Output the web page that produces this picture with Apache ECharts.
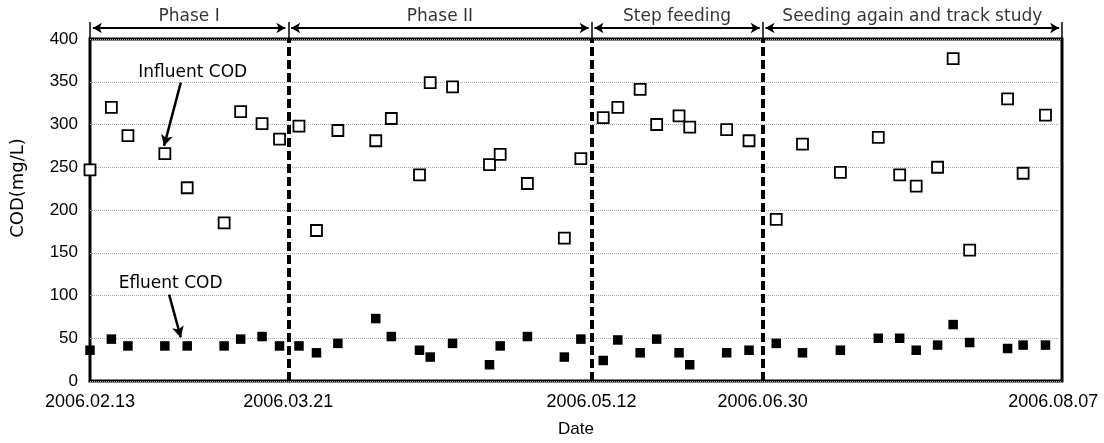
<!DOCTYPE html>
<html>
<head>
<meta charset="utf-8">
<script src="https://cdn.jsdelivr.net/npm/echarts@6/dist/echarts.min.js"></script>
<style>
  html, body { margin: 0; padding: 0; background: #fff; }
  #chart { width: 1104px; height: 443px; }
</style>
</head>
<body>
<div id="chart"></div>
<script>
// sample positions along the run, in % of the x axis
const xPos = [0, 2.2, 3.9, 7.7, 10.0, 13.8, 15.5, 17.7, 19.5, 21.5, 23.3, 25.5, 29.4, 31.0,
  33.9, 35.0, 37.3, 41.1, 42.2, 45.0, 48.8, 50.5, 52.8, 54.3, 56.6, 58.3, 60.6, 61.7, 65.5, 67.8,
  70.6, 73.3, 77.2, 81.1, 83.3, 85.0, 87.2, 88.8, 90.5, 94.4, 96.0, 98.3];
const influent = [247, 320, 287, 266, 226, 185, 315, 301, 283, 298, 176, 293, 281, 307,
  241, 349, 344, 253, 265, 231, 167, 260, 308, 320, 341, 300, 310, 297, 294, 281,
  189, 277, 244, 285, 241, 228, 250, 377, 153, 330, 243, 311];
const effluent = [36, 49, 41, 41, 41, 41, 49, 52, 41, 41, 33, 44, 73, 52,
  36, 28, 44, 19, 41, 52, 28, 49, 24, 48, 33, 49, 33, 19, 33, 36,
  44, 33, 36, 50, 50, 36, 42, 66, 45, 38, 42, 42];

const dateLabels = ['2006.02.13', '2006.03.21', '2006.05.12', '2006.06.30', '2006.08.07'];
const datePos = [0, 20.4, 51.6, 69.2, 99.1];

const phaseNames = ['Phase I', 'Phase II', 'Step feeding', 'Seeding again and track study'];
const phaseBounds = [0, 20.4, 51.6, 69.2, 100];

const numFont = 'Liberation Sans';
const txtFont = 'DejaVu Sans';

const chart = echarts.init(document.getElementById('chart'));

const arrowY = 0.367;
const phaseArrows = phaseNames.map((n, i) => [
  { coord: [phaseBounds[i] + 0.3, arrowY] },
  { coord: [phaseBounds[i + 1] - 0.3, arrowY] }
]);
const phaseBars = phaseBounds.map(b => [
  { coord: [b, 0] },
  { coord: [b, 0.567] }
]);
const phaseText = phaseNames.map((n, i) => ({
  name: n,
  value: [(phaseBounds[i] + phaseBounds[i + 1]) / 2, 0.75]
}));

chart.setOption({
  animation: false,
  grid: [
    { left: 90, right: 42, top: 39, bottom: 61, show: true, borderColor: '#000', borderWidth: 3 },
    { left: 90, right: 42, top: 9, height: 30 }
  ],
  xAxis: [{
    type: 'value', min: 0, max: 100,
    name: 'Date', nameLocation: 'middle', nameGap: 40,
    nameTextStyle: { fontFamily: numFont, fontSize: 17, color: '#000' },
    axisLine: { show: false },
    axisTick: { show: false },
    splitLine: { show: false },
    axisLabel: {
      customValues: datePos,
      formatter: v => dateLabels[datePos.indexOf(v)] || '',
      fontFamily: numFont, fontSize: 18, color: '#000', margin: 12
    }
  }, {
    type: 'value', gridIndex: 1, min: 0, max: 100, show: false
  }],
  yAxis: [{
    type: 'value', min: 0, max: 400, interval: 50,
    name: 'COD(mg/L)', nameLocation: 'middle', nameGap: 63,
    nameTextStyle: { fontFamily: txtFont, fontSize: 18, color: '#000', padding: [0, 0, 0, 44] },
    axisLine: { show: false },
    axisTick: { show: false },
    axisLabel: { fontFamily: numFont, fontSize: 17, color: '#000', margin: 12 },
    splitLine: { lineStyle: { color: '#aaa', type: 'dotted', width: 1 } }
  }, {
    type: 'value', gridIndex: 1, min: 0, max: 1, show: false
  }],
  series: [
    {
      name: 'Influent COD', type: 'scatter',
      data: xPos.map((x, i) => [x, influent[i]]),
      symbol: 'rect', symbolSize: 11,
      itemStyle: { color: '#fff', borderColor: '#000', borderWidth: 1.8, opacity: 1 },
      z: 3,
      markLine: {
        silent: true, symbol: ['none', 'arrow'], symbolSize: [9, 11],
        lineStyle: { color: '#000', width: 2.5, type: 'solid' },
        label: { show: false },
        data: [[{ coord: [9.34, 349] }, { coord: [7.62, 275] }]]
      },
      markPoint: {
        silent: true, symbol: 'rect', symbolSize: 1,
        itemStyle: { color: 'rgba(0,0,0,0)' },
        label: { show: true, position: 'inside', formatter: 'Influent COD', color: '#000', fontFamily: txtFont, fontSize: 17 },
        data: [{ coord: [10.56, 361] }]
      }
    },
    {
      name: 'Efluent COD', type: 'scatter',
      data: xPos.map((x, i) => [x, effluent[i]]),
      symbol: 'rect', symbolSize: 9.5,
      itemStyle: { color: '#000', opacity: 1 },
      z: 3,
      markLine: {
        silent: true, symbol: ['none', 'arrow'], symbolSize: [9, 11],
        lineStyle: { color: '#000', width: 2.5, type: 'solid' },
        label: { show: false },
        data: [[{ coord: [8.14, 101] }, { coord: [9.34, 51] }]]
      },
      markPoint: {
        silent: true, symbol: 'rect', symbolSize: 1,
        itemStyle: { color: 'rgba(0,0,0,0)' },
        label: { show: true, position: 'inside', formatter: 'Efluent COD', color: '#000', fontFamily: txtFont, fontSize: 17 },
        data: [{ coord: [8.29, 113.5] }]
      }
    },
    {
      // phase boundaries
      type: 'scatter', data: [],
      markLine: {
        silent: true, symbol: 'none',
        lineStyle: { color: '#000', width: 4, type: [9, 4] },
        label: { show: false },
        data: phaseBounds.slice(1, -1).map(b => ({ xAxis: b }))
      }
    },
    {
      // phase headers above the plot
      type: 'scatter', xAxisIndex: 1, yAxisIndex: 1,
      data: phaseText,
      symbolSize: 1, itemStyle: { color: 'rgba(0,0,0,0)' },
      label: { show: true, position: 'inside', formatter: p => p.name, color: '#000', fontFamily: txtFont, fontSize: 17 },
      markLine: {
        silent: true, symbol: ['arrow', 'arrow'], symbolSize: [8, 9],
        lineStyle: { color: '#000', width: 2, type: 'solid' },
        label: { show: false },
        data: phaseArrows
      }
    },
    {
      type: 'scatter', xAxisIndex: 1, yAxisIndex: 1, data: [],
      markLine: {
        silent: true, symbol: 'none',
        lineStyle: { color: '#000', width: 1.5, type: 'solid' },
        label: { show: false },
        data: phaseBars
      }
    }
  ]
});
</script>
</body>
</html>
